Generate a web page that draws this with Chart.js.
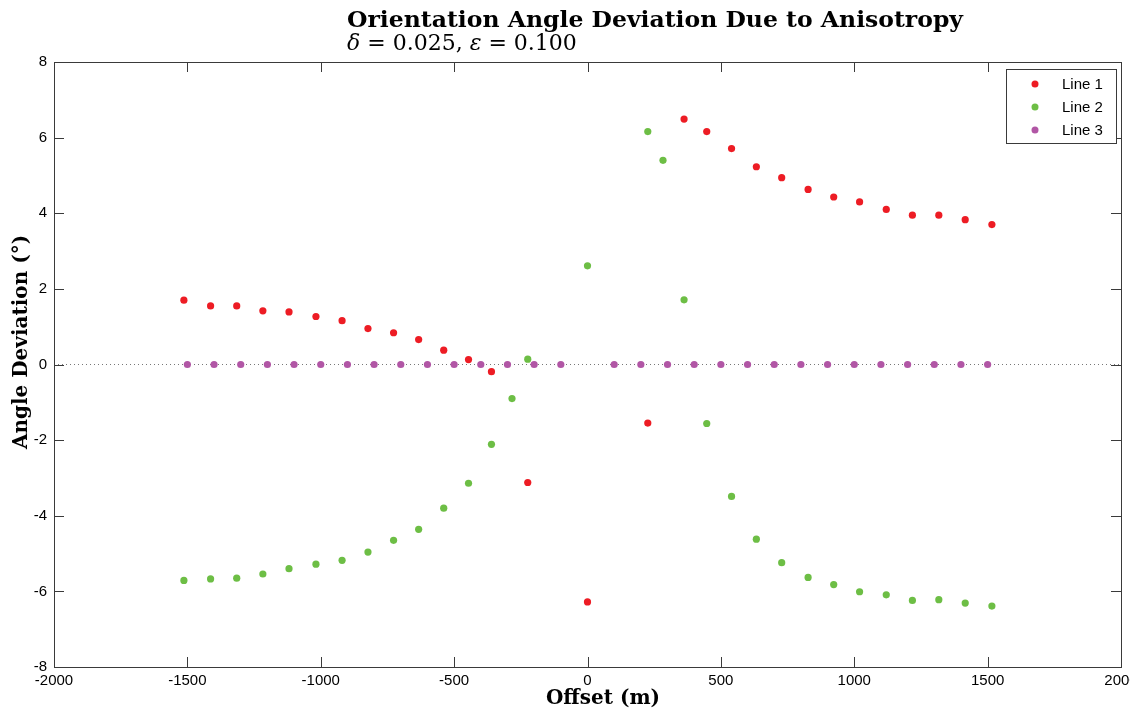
<!doctype html>
<html lang="en">
  <head>
    <meta charset="utf-8">
    <title>Orientation Angle Deviation</title>
    <script src="https://cdn.jsdelivr.net/npm/chart.js@4.4.0/dist/chart.umd.min.js"></script>
    <style>
      body { margin: 0; background: #fff; }
      #wrap { width: 1130px; height: 713px; position: relative; }
    </style>
  </head>
  <body>
    <div id="wrap"><canvas id="myChart"></canvas></div>

    <script>
        // offsets (m) and angle deviation (deg)
        const line1X = [-1513, -1413, -1315, -1217, -1119, -1018, -920, -823, -727, -633, -539, -446, -360,
                        -224, 0, 226,
                        362, 447, 540, 633, 728, 827, 923, 1020, 1120, 1218, 1317, 1416, 1516];
        const line1Y = [1.70, 1.55, 1.55, 1.42, 1.39, 1.27, 1.16, 0.95, 0.84, 0.66, 0.38, 0.13, -0.19,
                        -3.12, -6.28, -1.55,
                        6.49, 6.16, 5.71, 5.23, 4.94, 4.63, 4.43, 4.30, 4.10, 3.95, 3.95, 3.83, 3.70];

        const line2X = [-1513, -1413, -1315, -1217, -1119, -1018, -920, -823, -727, -633, -539, -446, -360,
                        -283, -224, 0, 226, 283, 362,
                        447, 540, 633, 728, 827, 923, 1020, 1120, 1218, 1317, 1416, 1516];
        const line2Y = [-5.71, -5.67, -5.65, -5.54, -5.40, -5.28, -5.18, -4.96, -4.65, -4.36, -3.80, -3.14, -2.11,
                        -0.90, 0.14, 2.61, 6.16, 5.40, 1.71,
                        -1.56, -3.49, -4.62, -5.24, -5.63, -5.82, -6.01, -6.09, -6.24, -6.22, -6.31, -6.39];

        const line3X = [-1500, -1400, -1300, -1200, -1100, -1000, -900, -800, -700, -600, -500, -400, -300, -200, -100,
                        100, 200, 300, 400, 500, 600, 700, 800, 900, 1000, 1100, 1200, 1300, 1400, 1500];
        const line3Y = [0, 0, 0, 0, 0, 0, 0, 0, 0, 0, 0, 0, 0, 0, 0,
                        0, 0, 0, 0, 0, 0, 0, 0, 0, 0, 0, 0, 0, 0, 0];

        // dotted zero reference line
        const zeroX = [-2000, 2000];
        const zeroY = [0, 0];

        const seriesLabels = ['Line 1', 'Line 2', 'Line 3'];
        const seriesColors = ['#ed1c24', '#6dbe45', '#b156a5'];

        const xTicks = [-2000, -1500, -1000, -500, 0, 500, 1000, 1500, 2000];
        const yTicks = [-8, -6, -4, -2, 0, 2, 4, 6, 8];

        function pts(xs, ys) {
            return xs.map(function (x, i) { return { x: x, y: ys[i] }; });
        }

        const serif = '"DejaVu Serif", "Liberation Serif", serif';
        const sans = '"Liberation Sans", Arial, sans-serif';

        // frame, inward ticks, titles and legend, MATLAB style
        const matlabFrame = {
            id: 'matlabFrame',
            afterDraw(chart) {
                const ctx = chart.ctx;
                const a = chart.chartArea;
                const xs = chart.scales.x, ys = chart.scales.y;
                ctx.save();
                ctx.strokeStyle = '#3a3a3a';
                ctx.lineWidth = 1;
                ctx.strokeRect(Math.round(a.left) + 0.5, Math.round(a.top) + 0.5,
                               Math.round(a.right - a.left), Math.round(a.bottom - a.top));
                ctx.beginPath();
                const tl = 10;
                xTicks.forEach(function (v) {
                    const px = Math.round(xs.getPixelForValue(v)) + 0.5;
                    ctx.moveTo(px, a.bottom); ctx.lineTo(px, a.bottom - tl);
                    ctx.moveTo(px, a.top); ctx.lineTo(px, a.top + tl);
                });
                yTicks.forEach(function (v) {
                    const py = Math.round(ys.getPixelForValue(v)) + 0.5;
                    ctx.moveTo(a.left, py); ctx.lineTo(a.left + tl, py);
                    ctx.moveTo(a.right, py); ctx.lineTo(a.right - tl, py);
                });
                ctx.stroke();

                // title
                ctx.fillStyle = '#000';
                ctx.textBaseline = 'alphabetic';
                ctx.textAlign = 'left';
                ctx.font = 'bold 22px ' + serif;
                const title = 'Orientation Angle Deviation Due to Anisotropy';
                const tw = ctx.measureText(title).width;
                ctx.save();
                ctx.translate(347, 27);
                ctx.scale(616 / tw, 1);
                ctx.fillText(title, 0, 0);
                ctx.restore();

                // subtitle with math italics
                let sx = 347;
                const parts = [
                    ['italic 22px ' + serif, '\u03B4'],
                    ['22px ' + serif, ' = 0.025, '],
                    ['italic 22px ' + serif, '\u03B5'],
                    ['22px ' + serif, ' = 0.100']
                ];
                parts.forEach(function (p) {
                    ctx.font = p[0];
                    ctx.fillText(p[1], sx, 50);
                    sx += ctx.measureText(p[1]).width;
                });

                // axis titles
                ctx.font = 'bold 20px ' + serif;
                ctx.textAlign = 'center';
                ctx.fillText('Offset (m)', 603, 704);
                ctx.save();
                ctx.translate(27, 342);
                ctx.rotate(-Math.PI / 2);
                ctx.fillText('Angle Deviation (\u00B0)', 0, 0);
                ctx.restore();

                // legend box
                const lx = 1006, ly = 69, lw = 110, lh = 74;
                ctx.fillStyle = '#fff';
                ctx.fillRect(lx, ly, lw, lh);
                ctx.strokeStyle = '#3a3a3a';
                ctx.strokeRect(lx + 0.5, ly + 0.5, lw, lh);
                ctx.font = '15px ' + sans;
                ctx.textAlign = 'left';
                ctx.textBaseline = 'middle';
                seriesLabels.forEach(function (lab, i) {
                    const yy = ly + 15 + i * 23;
                    ctx.fillStyle = seriesColors[i];
                    ctx.beginPath();
                    ctx.arc(lx + 29, yy, 3.5, 0, Math.PI * 2);
                    ctx.fill();
                    ctx.fillStyle = '#000';
                    ctx.fillText(lab, lx + 56, yy + 1);
                });
                ctx.restore();
            }
        };

        const ctx = document.getElementById('myChart').getContext('2d');
        const chart = new Chart(ctx, {
            type: 'scatter',
            data: {
                datasets: [
                    {
                        label: 'zero',
                        data: pts(zeroX, zeroY),
                        showLine: true,
                        borderColor: '#777',
                        borderWidth: 1,
                        borderDash: [1, 3],
                        pointRadius: 0,
                        order: 3
                    },
                    {
                        label: seriesLabels[0],
                        data: pts(line1X, line1Y),
                        pointRadius: 3.6,
                        pointBorderWidth: 0,
                        pointBackgroundColor: seriesColors[0],
                        backgroundColor: seriesColors[0],
                        order: 2
                    },
                    {
                        label: seriesLabels[1],
                        data: pts(line2X, line2Y),
                        pointRadius: 3.6,
                        pointBorderWidth: 0,
                        pointBackgroundColor: seriesColors[1],
                        backgroundColor: seriesColors[1],
                        order: 1
                    },
                    {
                        label: seriesLabels[2],
                        data: pts(line3X, line3Y),
                        pointRadius: 3.6,
                        pointBorderWidth: 0,
                        pointBackgroundColor: seriesColors[2],
                        backgroundColor: seriesColors[2],
                        order: 0
                    }
                ]
            },
            options: {
                responsive: true,
                maintainAspectRatio: false,
                animation: false,
                layout: {
                    padding: { top: 62, right: 9, left: 0, bottom: 0 }
                },
                scales: {
                    x: {
                        type: 'linear',
                        min: -2000,
                        max: 2000,
                        grid: { display: false, drawTicks: false },
                        border: { display: false },
                        afterBuildTicks: function (scale) {
                            scale.ticks = xTicks.map(function (v) { return { value: v }; });
                        },
                        afterFit: function (scale) {
                            scale.height = 46;
                            scale.paddingLeft = 0;
                            scale.paddingRight = 0;
                        },
                        ticks: {
                            color: '#000',
                            padding: 5,
                            maxRotation: 0,
                            font: { family: sans, size: 15 },
                            callback: function (v) { return String(v); }
                        }
                    },
                    y: {
                        type: 'linear',
                        min: -8,
                        max: 8,
                        grid: { display: false, drawTicks: false },
                        border: { display: false },
                        afterBuildTicks: function (scale) {
                            scale.ticks = yTicks.map(function (v) { return { value: v }; });
                        },
                        afterFit: function (scale) {
                            scale.width = 54;
                            scale.paddingTop = 0;
                            scale.paddingBottom = 0;
                        },
                        ticks: {
                            color: '#000',
                            padding: 7,
                            font: { family: sans, size: 15 },
                            callback: function (v) { return String(v); }
                        }
                    }
                },
                plugins: {
                    legend: { display: false },
                    tooltip: { enabled: false }
                }
            },
            plugins: [matlabFrame]
        });
    </script>
  </body>
</html>
